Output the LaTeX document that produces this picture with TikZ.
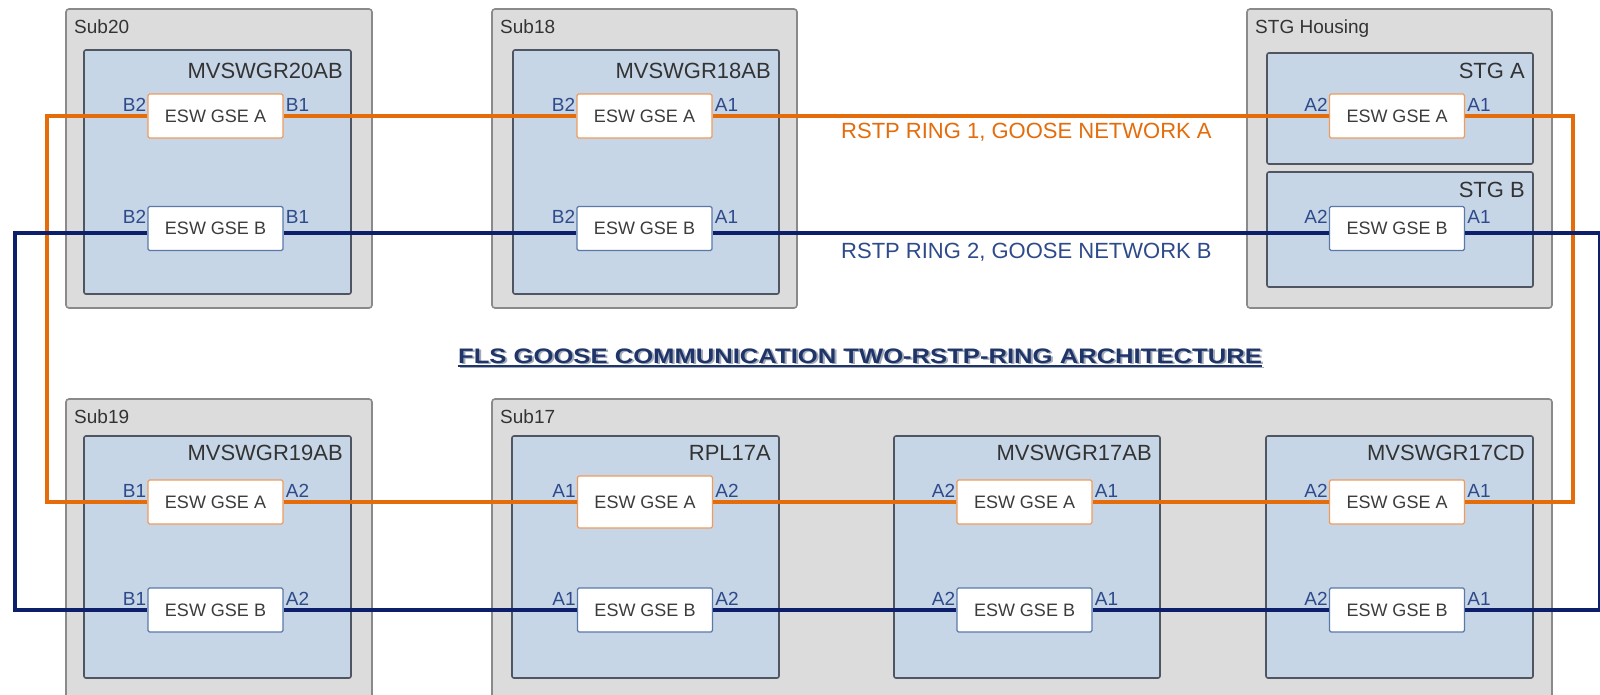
\documentclass[tikz,border=0pt]{standalone}
\usepackage{fontspec}
\setmainfont{Liberation Sans}
\usepackage{graphicx}
\definecolor{outerfill}{HTML}{DCDCDC}
\definecolor{outerline}{HTML}{8A8A8A}
\definecolor{innerfill}{HTML}{C7D6E7}
\definecolor{innerline}{HTML}{4F5661}
\definecolor{eswaline}{HTML}{EE9B5E}
\definecolor{eswbline}{HTML}{5A78A8}
\definecolor{ringorange}{HTML}{E46C0A}
\definecolor{ringblue}{HTML}{0D1F6B}
\definecolor{portblue}{HTML}{2D4A8A}
\definecolor{labeltext}{HTML}{333333}
\definecolor{boxtext}{HTML}{3C3C3C}
\definecolor{titleblue}{HTML}{1F3569}
\definecolor{shadowgray}{HTML}{A3AAB8}
\newcommand\eswbox[7]{%
  \node[#2] (#1) at (#3,#4) {#5};
  \node[port, anchor=base east] (#1-l) at ([shift={(-1,-5)}]#1.west) {#6};
  \node[port, anchor=base west] (#1-r) at ([shift={(2,-5)}]#1.east) {#7};
}
\begin{document}
\begin{tikzpicture}[x=1pt,y=-1pt,
  outerbox/.style={draw=outerline, fill=outerfill, line width=1.6pt, rounded corners=3pt},
  innerbox/.style={draw=innerline, fill=innerfill, line width=1.6pt, rounded corners=2pt},
  eswbase/.style={fill=white, line width=1.3pt, minimum width=135pt, minimum height=44pt,
    inner sep=0pt, rounded corners=1.5pt, font=\fontsize{18}{20}\selectfont, text=boxtext},
  eswa/.style={eswbase, draw=eswaline},
  eswb/.style={eswbase, draw=eswbline},
  port/.style={font=\fontsize{19}{21}\selectfont, text=portblue, inner sep=0pt},
  sublabel/.style={font=\fontsize{19}{22}\selectfont, text=labeltext, anchor=base west, inner sep=0pt},
  devlabel/.style={font=\fontsize{22}{25}\selectfont, text=labeltext, anchor=base east, inner sep=0pt},
  ringlabel/.style={font=\fontsize{22}{25}\selectfont, anchor=base west, inner sep=0pt},
  ringA/.style={draw=ringorange, line width=3.8pt},
  ringB/.style={draw=ringblue, line width=3.8pt},
  titlefont/.style={font=\bfseries\fontsize{21}{24}\selectfont, anchor=base, inner sep=0pt}
]
\useasboundingbox (0,0) rectangle (1600,694);
\fill[white] (0,0) rectangle (1600,694);

% outer containers
\draw[outerbox] (66,9) rectangle (372,308);
\draw[outerbox] (492,9) rectangle (797,308);
\draw[outerbox] (1247,9) rectangle (1552,308);
\draw[outerbox] (66,399) rectangle (372,720);
\draw[outerbox] (492,399) rectangle (1552,720);

% inner devices
\draw[innerbox] (84,50) rectangle (351,294);
\draw[innerbox] (513,50) rectangle (779,294);
\draw[innerbox] (1267,53) rectangle (1533,164);
\draw[innerbox] (1267,172) rectangle (1533,287);
\draw[innerbox] (84,436) rectangle (351,678);
\draw[innerbox] (512,436) rectangle (779,678);
\draw[innerbox] (894,436) rectangle (1160,678);
\draw[innerbox] (1266,436) rectangle (1533,678);

% container labels
\node[sublabel] (l20) at (74,33) {Sub20};
\node[sublabel] (l18) at (500,33) {Sub18};
\node[sublabel] (lstg) at (1255,33) {STG Housing};
\node[sublabel] (l19) at (74,423) {Sub19};
\node[sublabel] (l17) at (500,423) {Sub17};

\node[devlabel] (d20) at (343,78) {MVSWGR20AB};
\node[devlabel] (d18) at (771,78) {MVSWGR18AB};
\node[devlabel] (dstga) at (1525,78) {STG A};
\node[devlabel] (dstgb) at (1525,197) {STG B};
\node[devlabel] (d19) at (343,460) {MVSWGR19AB};
\node[devlabel] (drpl) at (771,460) {RPL17A};
\node[devlabel] (d17ab) at (1152,460) {MVSWGR17AB};
\node[devlabel] (d17cd) at (1525,460) {MVSWGR17CD};

% switches
\eswbox{s20a}{eswa}{215.5}{116}{ESW GSE A}{B2}{B1}
\eswbox{s20b}{eswb}{215.5}{228.5}{ESW GSE B}{B2}{B1}
\eswbox{s18a}{eswa}{644.5}{116}{ESW GSE A}{B2}{A1}
\eswbox{s18b}{eswb}{644.5}{228.5}{ESW GSE B}{B2}{A1}
\eswbox{stga}{eswa}{1397}{116}{ESW GSE A}{A2}{A1}
\eswbox{stgb}{eswb}{1397}{228.5}{ESW GSE B}{A2}{A1}
\eswbox{s19a}{eswa}{215.5}{502}{ESW GSE A}{B1}{A2}
\eswbox{s19b}{eswb}{215.5}{610}{ESW GSE B}{B1}{A2}
\node[eswa, minimum height=52pt] (rpla) at (645,502) {ESW GSE A};
\node[port, anchor=base east] (rpla-l) at ([shift={(-1,-5)}]rpla.west) {A1};
\node[port, anchor=base west] (rpla-r) at ([shift={(2,-5)}]rpla.east) {A2};
\eswbox{rplb}{eswb}{645}{610}{ESW GSE B}{A1}{A2}
\eswbox{ab17a}{eswa}{1024.5}{502}{ESW GSE A}{A2}{A1}
\eswbox{ab17b}{eswb}{1024.5}{610}{ESW GSE B}{A2}{A1}
\eswbox{cd17a}{eswa}{1397}{502}{ESW GSE A}{A2}{A1}
\eswbox{cd17b}{eswb}{1397}{610}{ESW GSE B}{A2}{A1}

% ring corners
\coordinate (oTL) at (47,116);
\coordinate (oBL) at (47,502);
\coordinate (oTR) at (1573,116);
\coordinate (oBR) at (1573,502);
\coordinate (bTL) at (15,233);
\coordinate (bBL) at (15,610);
\coordinate (bTR) at (1600,233);
\coordinate (bBR) at (1600,610);

% ring 1 (orange)
\draw[ringA] (s20a.west) -- (oTL) -- (oBL) -- (s19a.west);
\draw[ringA] (s20a.east) -- (s18a.west);
\draw[ringA] (s18a.east) -- (stga.west);
\draw[ringA] (stga.east) -- (oTR) -- (oBR) -- (cd17a.east);
\draw[ringA] (cd17a.west) -- (ab17a.east);
\draw[ringA] (ab17a.west) -- (rpla.east);
\draw[ringA] (rpla.west) -- (s19a.east);

% ring 2 (blue)
\draw[ringB] ([yshift=-4.5pt]s20b.west) -- (bTL) -- (bBL) -- (s19b.west);
\draw[ringB] ([yshift=-4.5pt]s20b.east) -- ([yshift=-4.5pt]s18b.west);
\draw[ringB] ([yshift=-4.5pt]s18b.east) -- ([yshift=-4.5pt]stgb.west);
\draw[ringB] ([yshift=-4.5pt]stgb.east) -- (bTR) -- (bBR) -- (cd17b.east);
\draw[ringB] (cd17b.west) -- (ab17b.east);
\draw[ringB] (ab17b.west) -- (rplb.east);
\draw[ringB] (rplb.west) -- (s19b.east);

% ring labels
\node[ringlabel, text=ringorange] (rl1) at (841,138) {RSTP RING 1, GOOSE NETWORK A};
\node[ringlabel, text=portblue] (rl2) at (841,258) {RSTP RING 2, GOOSE NETWORK B};

% title with shadow
\node[titlefont, text=shadowgray] (titlesh) at (862,364.5) {\scalebox{1.22}[1]{FLS GOOSE COMMUNICATION TWO-RSTP-RING ARCHITECTURE}};
\draw[shadowgray, line width=1.3pt] ([yshift=-3pt]titlesh.base west) -- ([yshift=-3pt]titlesh.base east);
\node[titlefont, text=titleblue] (title) at (860,363) {\scalebox{1.22}[1]{FLS GOOSE COMMUNICATION TWO-RSTP-RING ARCHITECTURE}};
\draw[titleblue, line width=1.3pt] ([yshift=-3pt]title.base west) -- ([yshift=-3pt]title.base east);
\end{tikzpicture}
\end{document}
